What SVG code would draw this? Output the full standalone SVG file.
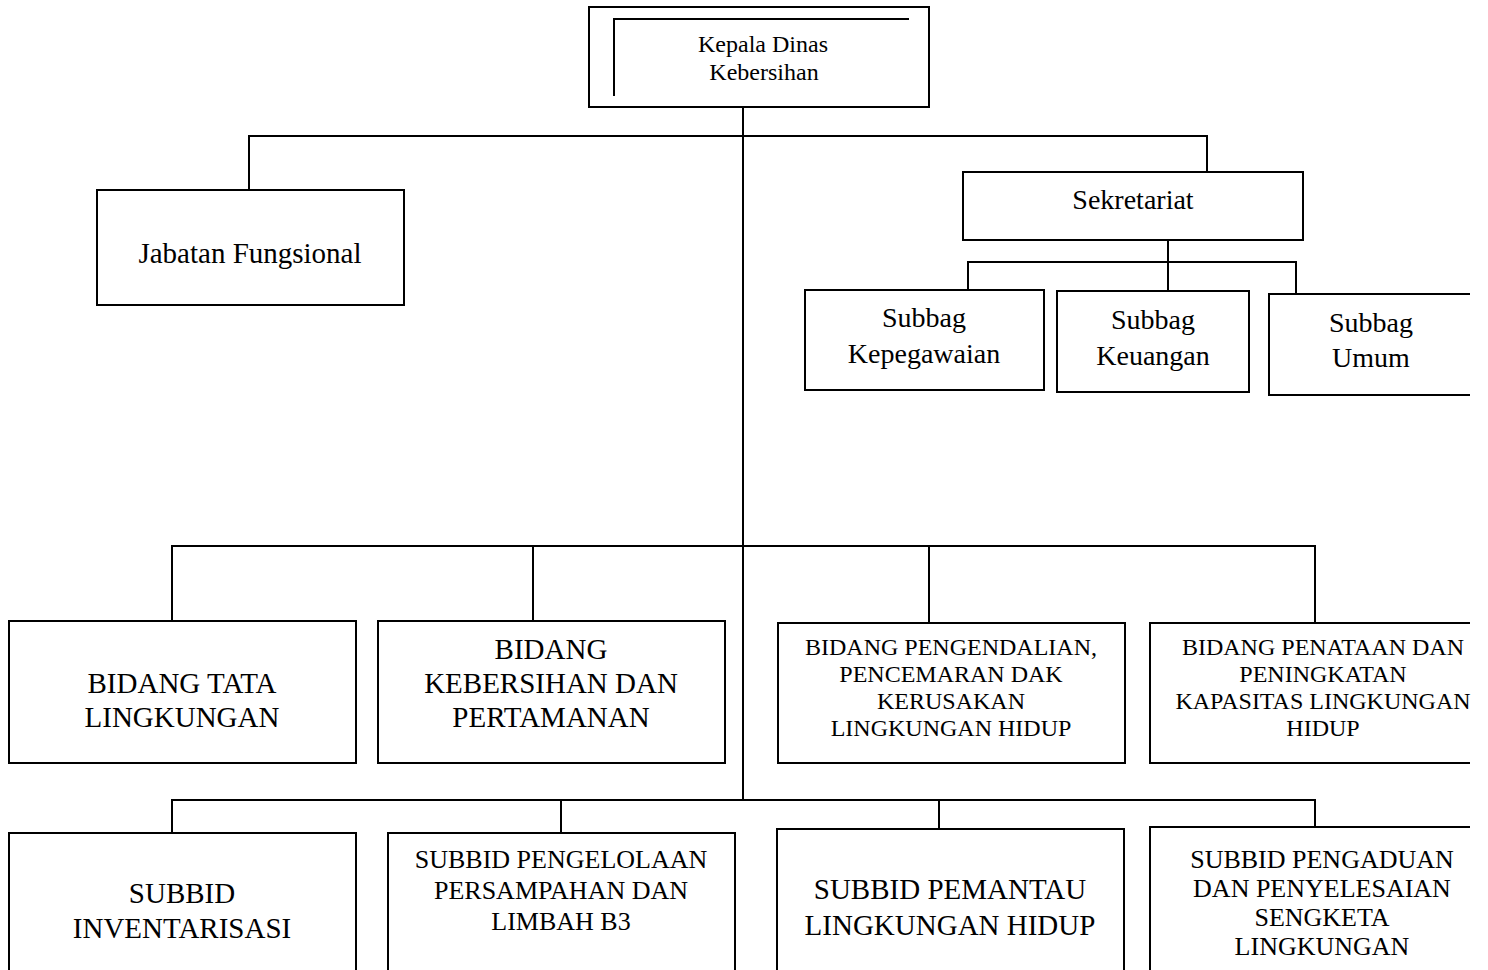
<svg xmlns="http://www.w3.org/2000/svg" width="1488" height="970" viewBox="0 0 1488 970">
<style>
.b{fill:#fff;stroke:#000;stroke-width:2}
.o{fill:none;stroke:#000;stroke-width:2}
.c{fill:none;stroke:#000;stroke-width:2}
text{font-family:"Liberation Serif","Times New Roman",serif;fill:#000;text-anchor:middle}
.s24{font-size:24px}.s26{font-size:26px}.s28{font-size:28px}.s29{font-size:29px}
</style>
<rect width="1488" height="970" fill="#fff"/>
<g id="connectors">
<path class="c" d="M743 107V800"/>
<path class="c" d="M249 190V136H1207V172"/>
<path class="c" d="M1168 240V291M968 290V262H1296V294"/>
<path class="c" d="M172 621V546H1315V623M533 546V621M929 546V623"/>
<path class="c" d="M172 833V800H1315V827M561 800V833M939 800V829"/>
</g>
<g id="kepala">
<rect class="b" x="589" y="7" width="340" height="100"/>
<path class="o" d="M909 19H614V96"/>
<text class="s24" x="763" y="52">Kepala Dinas</text>
<text class="s24" x="764" y="80">Kebersihan</text>
</g>
<g id="jabatan">
<rect class="b" x="97" y="190" width="307" height="115"/>
<text class="s29" x="250" y="263">Jabatan Fungsional</text>
</g>
<g id="sekretariat">
<rect class="b" x="963" y="172" width="340" height="68"/>
<text class="s28" x="1133" y="209">Sekretariat</text>
</g>
<g id="kepegawaian">
<rect class="b" x="805" y="290" width="239" height="100"/>
<text class="s28" x="924" y="327">Subbag</text>
<text class="s28" x="924" y="363">Kepegawaian</text>
</g>
<g id="keuangan">
<rect class="b" x="1057" y="291" width="192" height="101"/>
<text class="s28" x="1153" y="329">Subbag</text>
<text class="s28" x="1153" y="365">Keuangan</text>
</g>
<g id="umum">
<path class="b" d="M1470 294H1269V395H1470"/>
<text class="s28" x="1371" y="332">Subbag</text>
<text class="s28" x="1371" y="367">Umum</text>
</g>
<g id="bidang-tata">
<rect class="b" x="9" y="621" width="347" height="142"/>
<text class="s29" x="182" y="693">BIDANG TATA</text>
<text class="s29" x="182" y="727">LINGKUNGAN</text>
</g>
<g id="bidang-kebersihan">
<rect class="b" x="378" y="621" width="347" height="142"/>
<text class="s29" x="551" y="659">BIDANG</text>
<text class="s29" x="551" y="693">KEBERSIHAN DAN</text>
<text class="s29" x="551" y="727">PERTAMANAN</text>
</g>
<g id="bidang-pengendalian">
<rect class="b" x="778" y="623" width="347" height="140"/>
<text class="s24" x="951" y="655">BIDANG PENGENDALIAN,</text>
<text class="s24" x="951" y="682">PENCEMARAN DAK</text>
<text class="s24" x="951" y="709">KERUSAKAN</text>
<text class="s24" x="951" y="736">LINGKUNGAN HIDUP</text>
</g>
<g id="bidang-penataan">
<path class="b" d="M1470 623H1150V763H1470"/>
<text class="s24" x="1323" y="655">BIDANG PENATAAN DAN</text>
<text class="s24" x="1323" y="682">PENINGKATAN</text>
<text class="s24" x="1323" y="709">KAPASITAS LINGKUNGAN</text>
<text class="s24" x="1323" y="736">HIDUP</text>
</g>
<g id="subbid-inventarisasi">
<path class="b" d="M9 972V833H356V972"/>
<text class="s29" x="182" y="903">SUBBID</text>
<text class="s29" x="182" y="938">INVENTARISASI</text>
</g>
<g id="subbid-pengelolaan">
<path class="b" d="M388 972V833H735V972"/>
<text class="s26" x="561" y="868">SUBBID PENGELOLAAN</text>
<text class="s26" x="561" y="899">PERSAMPAHAN DAN</text>
<text class="s26" x="561" y="930">LIMBAH B3</text>
</g>
<g id="subbid-pemantau">
<path class="b" d="M777 972V829H1124V972"/>
<text class="s29" x="950" y="899">SUBBID PEMANTAU</text>
<text class="s29" x="950" y="935">LINGKUNGAN HIDUP</text>
</g>
<g id="subbid-pengaduan">
<path class="b" d="M1150 972V827H1470"/>
<text class="s26" x="1322" y="868">SUBBID PENGADUAN</text>
<text class="s26" x="1322" y="897">DAN PENYELESAIAN</text>
<text class="s26" x="1322" y="926">SENGKETA</text>
<text class="s26" x="1322" y="955">LINGKUNGAN</text>
</g>
</svg>
